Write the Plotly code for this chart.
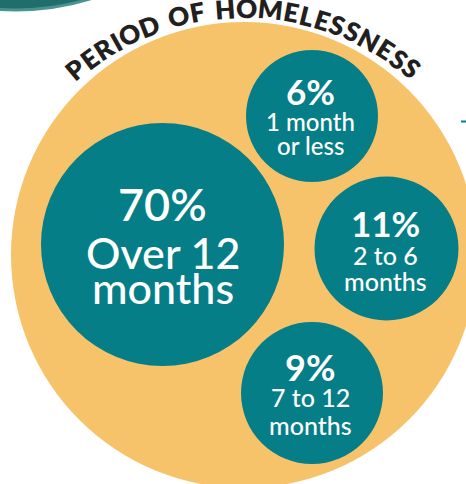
import math
import plotly.graph_objects as go

# ---- data ----
title_text = "PERIOD OF HOMELESSNESS"
percents = [70, 6, 11, 9]
labels = [["Over 12", "months"], ["1 month", "or less"], ["2 to 6", "months"], ["7 to 12", "months"]]

# ---- layout / styling (pixel space of the picture) ----
W, H = 466, 484
TEAL = "#057E87"
ORANGE = "#F7C36A"
DARK = "#231F20"

big = dict(cx=244, cy=255, r=233)
bubbles = [
    dict(cx=162.5, cy=244.5, r=121.5, pf=45, pw=600, lf=43, lw=500, py=203.5, ly=[252.5, 287]),
    dict(cx=312, cy=116, r=66, pf=35, pw=700, lf=24, lw=500, py=90.5, ly=[121.5, 145.5]),
    dict(cx=386.5, cy=248.5, r=72, pf=35, pw=700, lf=25, lw=500, py=222.5, ly=[255, 281]),
    dict(cx=312, cy=393, r=71, pf=36, pw=700, lf=25, lw=500, py=366.5, ly=[396.5, 424.5]),
]
text_x = [162.5, 310, 385, 310]

fig = go.Figure()
fig.add_trace(go.Scatter(x=[0, W], y=[0, H], mode="markers", marker=dict(opacity=0),
                         hoverinfo="skip", showlegend=False))

shapes = []
shapes.append(dict(type="circle", xref="x", yref="y", x0=15 - 260, x1=15 + 260, y0=-250 - 260, y1=-250 + 260,
                   fillcolor="#1F6E6C", line=dict(color="#4A9390", width=3), layer="below"))
shapes.append(dict(type="circle", xref="x", yref="y", x0=big["cx"] - big["r"], x1=big["cx"] + big["r"],
                   y0=big["cy"] - big["r"], y1=big["cy"] + big["r"], fillcolor=ORANGE, line=dict(width=0), layer="below"))
for b in bubbles:
    shapes.append(dict(type="circle", xref="x", yref="y", x0=b["cx"] - b["r"], x1=b["cx"] + b["r"],
                       y0=b["cy"] - b["r"], y1=b["cy"] + b["r"], fillcolor=TEAL, line=dict(width=0), layer="below"))
shapes.append(dict(type="line", xref="x", yref="y", x0=461, x1=466, y0=121.5, y1=121.5, line=dict(color=TEAL, width=2)))

annotations = []
for pct, lab, b, tx in zip(percents, labels, bubbles, text_x):
    annotations.append(dict(x=tx, y=b["py"], xref="x", yref="y", text=f"{pct}%", showarrow=False,
                            xanchor="center", yanchor="middle",
                            font=dict(family="Lato", size=b["pf"], weight=b["pw"], color="white")))
    for line, ly in zip(lab, b["ly"]):
        annotations.append(dict(x=tx, y=ly, xref="x", yref="y", text=line, showarrow=False,
                                xanchor="center", yanchor="middle",
                                font=dict(family="Lato", size=b["lf"], weight=b["lw"], color="white")))

# curved title along an arc
wid = {"P": .61, "E": .55, "R": .62, "I": .27, "O": .76, "D": .73, " ": .26, "F": .53, "H": .75,
       "M": .92, "L": .48, "S": .52, "N": .76}
arc_cx, arc_cy, arc_r = 244, 270, 262
a0, a1 = -40.0, 39.7
spacing = 0.12
cum, centers = 0.0, []
for ch in title_text:
    w = wid.get(ch, .6) + spacing
    centers.append(cum + w / 2)
    cum += w
c0, c1 = centers[0], centers[-1]
for ch, c in zip(title_text, centers):
    if ch == " ":
        continue
    th = a0 + (c - c0) / (c1 - c0) * (a1 - a0)
    t = math.radians(th)
    annotations.append(dict(x=arc_cx + arc_r * math.sin(t), y=arc_cy - arc_r * math.cos(t), xref="x", yref="y",
                            text=ch, showarrow=False, textangle=th, xanchor="center", yanchor="middle",
                            font=dict(family="Lato", size=26, weight=800, color=DARK)))

fig.update_layout(width=W, height=H, margin=dict(l=0, r=0, t=0, b=0), paper_bgcolor="white", plot_bgcolor="white",
                  xaxis=dict(range=[0, W], visible=False, fixedrange=True),
                  yaxis=dict(range=[H, 0], visible=False, fixedrange=True),
                  shapes=shapes, annotations=annotations, showlegend=False)
fig.write_html("out.html", config={"displayModeBar": False},
               post_script="document.body.style.margin='0';document.body.style.overflow='hidden';")
